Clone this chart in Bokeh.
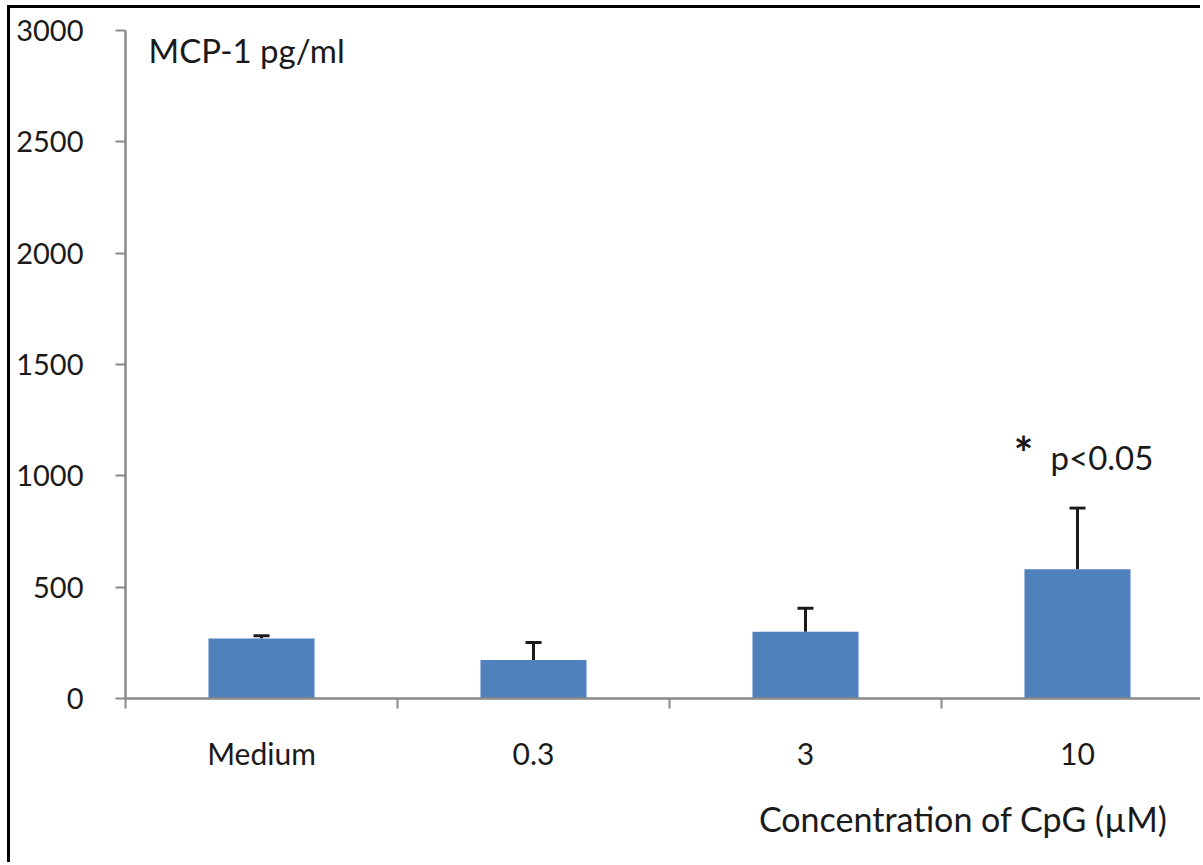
from bokeh.plotting import figure
from bokeh.models import (ColumnDataSource, FixedTicker, Range1d, Whisker, TeeHead, Label, Title)
from bokeh.embed import file_html
from bokeh.resources import INLINE

# MCP-1 secretion by CpG concentration
categories = ["Medium", "0.3", "3", "10"]
mcp1_mean = [270, 173, 300, 580]
mcp1_sd = [12, 78, 105, 275]
y_ticks = [0, 500, 1000, 1500, 2000, 2500, 3000]

FONT = "Lato"
TEXT = "#1a1a1a"
AXIS = "#8a8a8a"
BAR = "#4F81BD"

xs = [i + 0.5 for i in range(len(categories))]
src = ColumnDataSource(dict(
    x=xs,
    top=mcp1_mean,
    upper=[m + s for m, s in zip(mcp1_mean, mcp1_sd)],
    lower=mcp1_mean,
))

W, H = 1193, 857
p = figure(width=W, height=H, output_backend="svg", toolbar_location=None,
           x_range=Range1d(0, (1203 - 125) / 272), y_range=Range1d(0, 3000),
           min_border_left=115, min_border_right=0, min_border_top=22,
           min_border_bottom=H - 690)
p.margin = (5, 0, 0, 7)
p.styles = {"border-left": "3px solid #000", "border-top": "3px solid #000"}
p.outline_line_color = None
p.xgrid.visible = False
p.ygrid.visible = False
p.background_fill_color = "white"
p.border_fill_color = "white"

p.vbar(x="x", top="top", width=0.39, bottom=0, source=src,
       fill_color=BAR, line_color=None)

p.add_layout(Whisker(base="x", upper="upper", lower="lower", source=src,
                     line_color=TEXT, line_width=3,
                     upper_head=TeeHead(size=16, line_color=TEXT, line_width=3),
                     lower_head=None))

# y axis
ya = p.yaxis[0]
ya.ticker = FixedTicker(ticks=y_ticks)
ya.axis_line_color = AXIS
ya.axis_line_width = 2.5
ya.major_tick_line_color = AXIS
ya.major_tick_line_width = 2
ya.major_tick_out = 10
ya.major_tick_in = 0
ya.minor_tick_line_color = None
ya.major_label_standoff = 32
ya.major_label_text_font = FONT
ya.major_label_text_font_size = "29px"
ya.major_label_text_color = TEXT

# x axis: labels at category centres, tick marks between categories
xa = p.xaxis[0]
xa.ticker = FixedTicker(ticks=xs, minor_ticks=list(range(len(categories) + 1)))
xa.major_label_overrides = {x: c for x, c in zip(xs, categories)}
xa.axis_line_color = AXIS
xa.axis_line_width = 2.5
xa.major_tick_line_color = None
xa.major_tick_out = 0
xa.major_tick_in = 0
xa.minor_tick_line_color = AXIS
xa.minor_tick_line_width = 2
xa.minor_tick_out = 10
xa.minor_tick_in = 0
xa.major_label_standoff = 26
xa.major_label_text_font = FONT
xa.major_label_text_font_size = "30px"
xa.major_label_text_color = TEXT

p.add_layout(Title(text="Concentration of CpG (µM)", align="right", offset=36,
                   standoff=44, text_font=FONT, text_font_size="34px",
                   text_font_style="normal", text_color=TEXT), "below")

px_per_unit = 667.5 / 3000

def ypos(screen_y):
    return (697.5 - screen_y) / px_per_unit

def xpos(screen_x):
    return (screen_x - 125) / 272

p.add_layout(Label(x=xpos(148), y=ypos(49), text="MCP-1 pg/ml",
                   text_font=FONT, text_font_size="33px", text_color=TEXT,
                   text_baseline="alphabetic"))
p.add_layout(Label(x=xpos(1023), y=ypos(452), text="*",
                   text_font=FONT, text_font_size="46px", text_font_style="bold",
                   text_color=TEXT, text_align="center", text_baseline="middle"))
p.add_layout(Label(x=xpos(1050), y=ypos(456), text="p<0.05",
                   text_font=FONT, text_font_size="33px", text_color=TEXT,
                   text_baseline="alphabetic"))

open("out.html", "w").write(file_html(p, INLINE))
